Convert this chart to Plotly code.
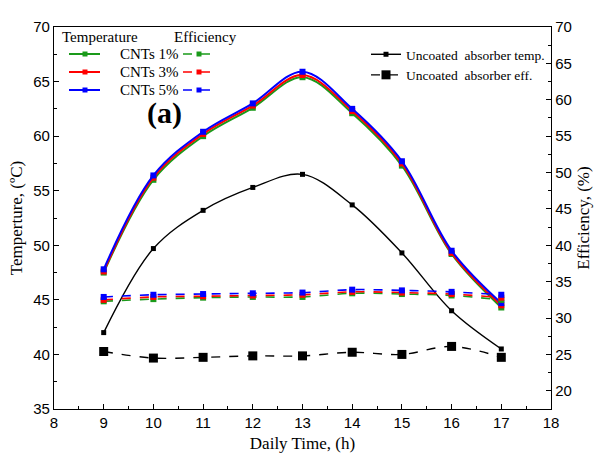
import plotly.graph_objects as go

hours = [9, 10, 11, 12, 13, 14, 15, 16, 17]

temp_cnt1 = [47.5, 56.0, 60.0, 62.6, 65.4, 62.1, 57.3, 49.2, 44.3]
temp_cnt3 = [47.6, 56.2, 60.2, 62.8, 65.6, 62.3, 57.5, 49.3, 44.5]
temp_cnt5 = [47.8, 56.4, 60.4, 63.0, 65.9, 62.5, 57.7, 49.5, 44.7]
temp_uncoated = [42.0, 49.7, 53.2, 55.3, 56.5, 53.7, 49.3, 44.0, 40.5]

eff_cnt1 = [32.3, 32.6, 32.8, 32.9, 32.9, 33.4, 33.3, 33.1, 32.5]
eff_cnt3 = [32.5, 32.9, 33.0, 33.1, 33.2, 33.6, 33.5, 33.3, 32.8]
eff_cnt5 = [32.9, 33.2, 33.3, 33.4, 33.5, 33.9, 33.8, 33.6, 33.2]
eff_uncoated = [25.4, 24.5, 24.6, 24.8, 24.8, 25.3, 25.0, 26.1, 24.6]

names = ["CNTs 1%", "CNTs 3%", "CNTs 5%"]
colors = ["#1a9a1a", "#ff0000", "#0000ff"]
temps = [temp_cnt1, temp_cnt3, temp_cnt5]
effs = [eff_cnt1, eff_cnt3, eff_cnt5]

SERIF = "Liberation Serif, Times New Roman, serif"
SANS = "Liberation Sans, Arial, sans-serif"

W, H = 598, 453
ML, MR, MT, MB = 54, 47, 27, 44
PW, PH = W - ML - MR, H - MT - MB


def px(x):
    return (x - ML) / PW


def py(y):
    return 1 - (y - MT) / PH


fig = go.Figure()

for n, c, t in zip(names, colors, temps):
    fig.add_trace(go.Scatter(
        x=hours, y=t, name=n, mode="lines+markers", showlegend=False,
        line=dict(color=c, width=2, shape="spline"),
        marker=dict(symbol="square", size=6, color=c),
    ))

for n, c, e in zip(names, colors, effs):
    fig.add_trace(go.Scatter(
        x=hours, y=e, name=n + " eff.", mode="lines+markers", yaxis="y2", showlegend=False,
        line=dict(color=c, width=1.6, dash="dash", shape="spline"),
        marker=dict(symbol="square", size=6, color=c),
    ))

fig.add_trace(go.Scatter(
    x=hours, y=temp_uncoated, name="Uncoated\u00a0 absorber temp.", mode="lines+markers",
    line=dict(color="black", width=1.4, shape="spline"),
    marker=dict(symbol="square", size=5, color="black"),
    legendgroup="u1",
))
fig.add_trace(go.Scatter(
    x=hours, y=eff_uncoated, name="Uncoated\u00a0 absorber eff.", mode="lines+markers", yaxis="y2",
    line=dict(color="black", width=1.4, dash="dash", shape="spline"),
    marker=dict(symbol="square", size=9, color="black"),
    legendgroup="u2",
))

axis_common = dict(
    showline=True, linecolor="black", linewidth=1.3, automargin=False,
    ticks="inside", ticklen=5, tickwidth=1.2, tickcolor="black",
    showgrid=False, zeroline=False,
    tickfont=dict(family=SANS, size=15, color="black"),
)

# manual legend for CNT series (temperature + efficiency columns)
shapes = []
annotations = [
    dict(text="Temperature", x=px(60), y=py(37), xanchor="left", yanchor="middle"),
    dict(text="Efficiency", x=px(172), y=py(37), xanchor="left", yanchor="middle"),
]
rows = [54, 72, 90]
for n, c, ry in zip(names, colors, rows):
    shapes.append(dict(type="line", xref="paper", yref="paper", x0=px(69), x1=px(100), y0=py(ry), y1=py(ry),
                       line=dict(color=c, width=2)))
    shapes.append(dict(type="rect", xref="paper", yref="paper", x0=px(82.5), x1=px(87.5), y0=py(ry - 2.5), y1=py(ry + 2.5),
                       line=dict(width=0), fillcolor=c))
    shapes.append(dict(type="line", xref="paper", yref="paper", x0=px(183), x1=px(216), y0=py(ry), y1=py(ry),
                       line=dict(color=c, width=1.6, dash="dash")))
    shapes.append(dict(type="rect", xref="paper", yref="paper", x0=px(196.5), x1=px(201.5), y0=py(ry - 2.5), y1=py(ry + 2.5),
                       line=dict(width=0), fillcolor=c))
    annotations.append(dict(text=n, x=px(118), y=py(ry), xanchor="left", yanchor="middle"))

for a in annotations:
    a.update(xref="paper", yref="paper", showarrow=False,
             font=dict(family=SERIF, size=15, color="black"))

annotations.append(dict(
    text="<b>(a)</b>", x=px(164), y=py(113), xref="paper", yref="paper",
    xanchor="center", yanchor="middle",
    showarrow=False, font=dict(family=SERIF, size=30, color="black"),
))

fig.update_layout(
    width=W, height=H,
    margin=dict(l=ML, r=MR, t=MT, b=MB),
    paper_bgcolor="white", plot_bgcolor="white",
    xaxis=dict(
        range=[8, 18], dtick=1, mirror=True,
        minor=dict(dtick=0.5, ticks="inside", ticklen=3, tickcolor="black"),
        title=dict(text="Daily Time, (h)", font=dict(family=SERIF, size=17, color="black"), standoff=8),
        **axis_common,
    ),
    yaxis=dict(
        range=[35, 70], dtick=5,
        minor=dict(dtick=2.5, ticks="inside", ticklen=3, tickcolor="black"),
        title=dict(text="Temperture, (ºC)", font=dict(family=SERIF, size=17, color="black"), standoff=6),
        **axis_common,
    ),
    yaxis2=dict(
        range=[17.5, 70], dtick=5, tick0=20, overlaying="y", side="right",
        minor=dict(dtick=2.5, ticks="inside", ticklen=3, tickcolor="black"),
        title=dict(text="Efficiency, (%)", font=dict(family=SERIF, size=17, color="black"), standoff=6),
        **axis_common,
    ),
    legend=dict(
        x=px(366), y=py(39), xanchor="left", yanchor="top",
        bgcolor="rgba(0,0,0,0)", borderwidth=0, tracegroupgap=0,
        font=dict(family=SERIF, size=13.5, color="black"),
    ),
    showlegend=True,
    shapes=shapes,
    annotations=annotations,
)

fig.write_html("out.html")
